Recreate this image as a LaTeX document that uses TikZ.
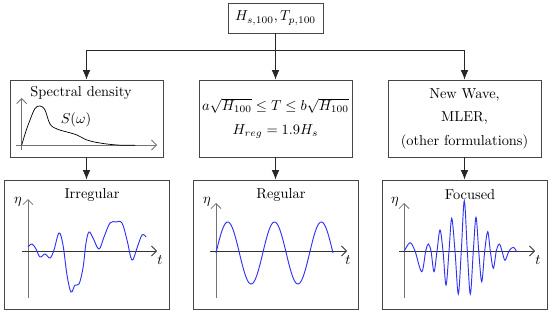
\documentclass[tikz,border=0pt]{standalone}
\usetikzlibrary{arrows.meta}
\definecolor{wavecol}{RGB}{50,50,245}
\definecolor{boxcol}{RGB}{70,70,70}
\begin{document}
\begin{tikzpicture}[x=0.694pt,y=-0.694pt,
  box/.style={draw=boxcol,line width=0.6pt,inner sep=0pt,align=center},
  topbox/.style={box,minimum width=65.9pt,minimum height=20.8pt},
  midbox/.style={box,minimum width=106.2pt,minimum height=53.4pt,font=\linespread{1.36}\selectfont},
  botbox/.style={box,minimum width=114.5pt,minimum height=89.5pt},
  conn/.style={draw=black!85,line width=0.6pt},
  arr/.style={conn,-{Latex[length=6.5pt,width=5.2pt]}},
  yaxis/.style={draw=black!55,line width=0.6pt,-{Straight Barb[length=3.5pt,width=7pt]}},
  xaxis/.style={draw=black!80,line width=0.5pt,-{Straight Barb[length=3.5pt,width=7pt]}},
  wave/.style={draw=wavecol,line width=0.65pt},
  spec/.style={draw=black,line width=0.5pt},
  lbl/.style={inner sep=0pt}]

\useasboundingbox (0,0) rectangle (550,314);

% boxes
\node[topbox] (top) at (275.5,18) {$H_{s,100}, T_{p,100}$};
\node[midbox] (m1) at (86.5,118.5) {};
\node[midbox] (m2) at (275.5,118.5) {$a\sqrt{H_{100}}\le T\le b\sqrt{H_{100}}$\\$H_{reg}=1.9H_s$};
\node[midbox] (m3) at (464.5,118.5) {New Wave,\\MLER,\\(other formulations)};
\node[botbox] (b1) at (86.5,244.5) {};
\node[botbox] (b2) at (275.5,244.5) {};
\node[botbox] (b3) at (464.5,244.5) {};

% connectors
\coordinate (split) at (275.5,50);
\draw[conn] (top.south) -- (split);
\draw[arr] (split) -- (m2.north);
\draw[arr] (split) -| (m1.north);
\draw[arr] (split) -| (m3.north);
\draw[arr] (m1.south) -- (b1.north);
\draw[arr] (m2.south) -- (b2.north);
\draw[arr] (m3.south) -- (b3.north);

% spectral density
\node[lbl] (sdl) at (81,93) {Spectral density};
\draw[yaxis] (21.7,150) -- (21.7,98);
\draw[yaxis] (16,145) -- (157,145);
\draw[spec] plot[smooth,tension=0.6] coordinates {(21.7,145) (26,131) (30,120) (35,108.5) (40,106) (45,110) (50,124) (57,129) (67,132) (77,135) (87,140) (100,143) (117,145) (135,145.3)};
\node[lbl] (sw) at (76,120) {$S(\omega)$};

% irregular
\node[lbl] (t1) at (92,195) {Irregular};
\draw[yaxis] (28,298) -- (28,199);
\draw[xaxis] (22,251) -- (157,251);
\node[lbl] (eta1) at (18,202) {$\eta$};
\node[lbl] (tt1) at (160,260) {$t$};
\draw[wave] plot[smooth,tension=0.6] coordinates {(28,247) (32,244) (36,249) (40,257) (45,254) (50,258) (54,250) (59,233) (63,245) (67,275) (71,292) (75,285) (79,284) (83,268) (86,243) (89,232) (93,238) (99,249) (104,237) (110,223) (116,222) (122,223) (127,240) (132,260) (137,248) (142,235) (146,237)};

% regular
\node[lbl] (t2) at (281,195) {Regular};
\draw[yaxis] (216,298) -- (216,203);
\draw[xaxis] (210,251) -- (347,251);
\node[lbl] (eta2) at (207,202) {$\eta$};
\node[lbl] (tt2) at (348,260) {$t$};
\draw[wave] plot[domain=0:117,samples=150] ({\x+216},{253-31*sin(7.6923*\x)});

% focused
\node[lbl] (t3) at (470,195) {Focused};
\draw[yaxis] (404,298) -- (404,203);
\draw[xaxis] (399,251) -- (535,251);
\node[lbl] (eta3) at (395,202) {$\eta$};
\node[lbl] (tt3) at (538,260) {$t$};
\draw[wave] plot[smooth,tension=0.55] coordinates {(404.3,251) (410,242.7) (415,251) (421.7,271.7) (425.7,251) (428.3,244) (431,251) (434,271.7) (437,251) (440,230) (443,251) (446,285) (449,251) (451.7,218.3) (455,251) (458.3,294) (461.3,251) (464.3,200.7) (467.3,251) (470.3,294) (473.3,251) (476,217.3) (478.7,251) (481.7,281.7) (484.7,251) (487.7,231.7) (490.3,251) (493.3,268.3) (496.3,251) (499.3,244) (502,251) (505,260.3) (509,251) (513.3,247.3) (516.7,251.7)};
\end{tikzpicture}
\end{document}
